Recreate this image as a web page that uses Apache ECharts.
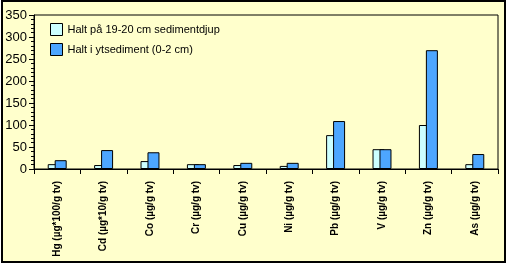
<!DOCTYPE html>
<html>
<head>
<meta charset="utf-8">
<script src="https://cdn.jsdelivr.net/npm/echarts@6/dist/echarts.min.js"></script>
<style>
  html, body { margin: 0; padding: 0; background: #ffffff; }
  #frame { position: absolute; left: 1px; top: 0px; width: 501px; height: 259px; border: 2px solid #000; background: #ffffcc; }
  #chart { position: absolute; left: 0; top: 0; width: 508px; height: 265px; }
</style>
</head>
<body>
<div id="frame"></div>
<div id="chart"></div>
<script>
const categories = ['Hg (µg*100/g tv)', 'Cd (µg*10/g tv)', 'Co (µg/g tv)', 'Cr (µg/g tv)', 'Cu (µg/g tv)', 'Ni (µg/g tv)', 'Pb (µg/g tv)', 'V (µg/g tv)', 'Zn (µg/g tv)', 'As (µg/g tv)'];
const seriesNames = ['Halt på 19-20 cm sedimentdjup', 'Halt i ytsediment (0-2 cm)'];
const deepValues = [11, 9, 18, 11, 9, 7, 77, 45, 100, 11];
const surfaceValues = [20, 43, 38, 11, 14, 14, 109, 45, 270, 34];
const yTicks = [0, 50, 100, 150, 200, 250, 300, 350];

const colors = ['#ccffff', '#4da6ff'];
const chart = echarts.init(document.getElementById('chart'), null, { renderer: 'canvas' });
const font = 'Arial, "Liberation Sans", sans-serif';
chart.setOption({
  backgroundColor: 'transparent',
  animation: false,
  grid: { left: 34, right: 10, top: 15, bottom: 96, containLabel: false, outerBoundsMode: 'none', show: true, borderColor: '#000', borderWidth: 1, backgroundColor: 'transparent' },
  legend: {
    orient: 'vertical', left: 45, top: 18, itemWidth: 12, itemHeight: 12, itemGap: 7,
    icon: 'rect',
    textStyle: { fontSize: 11, color: '#000', fontFamily: font },
    data: seriesNames.map((n, i) => ({ name: n, itemStyle: { color: colors[i], borderColor: '#000', borderWidth: 1 } }))
  },
  xAxis: {
    type: 'category', data: categories,
    axisLine: { lineStyle: { color: '#000', width: 1 } },
    axisTick: { show: true, length: 5, inside: false, interval: 0, lineStyle: { color: '#000' } },
    axisLabel: { rotate: 90, interval: 0, fontSize: 10, fontWeight: 'bold', color: '#000', fontFamily: font, margin: 12 },
    splitLine: { show: false }
  },
  yAxis: {
    type: 'value', min: yTicks[0], max: yTicks[yTicks.length - 1], interval: 50,
    axisLine: { show: true, lineStyle: { color: '#000', width: 1 } },
    axisTick: { show: true, length: 5, lineStyle: { color: '#000' } },
    minorTick: { show: true, splitNumber: 5, length: 3, lineStyle: { color: '#000' } },
    axisLabel: { fontSize: 13, color: '#000', fontFamily: font, margin: 7 },
    splitLine: { show: false }
  },
  series: [
    { name: seriesNames[0], type: 'bar', data: deepValues, barWidth: 12, barGap: '-42%',
      itemStyle: { color: colors[0], borderColor: '#000', borderWidth: 1 } },
    { name: seriesNames[1], type: 'bar', data: surfaceValues, barWidth: 12, barGap: '-42%',
      itemStyle: { color: colors[1], borderColor: '#000', borderWidth: 1 } }
  ]
});
</script>
</body>
</html>
